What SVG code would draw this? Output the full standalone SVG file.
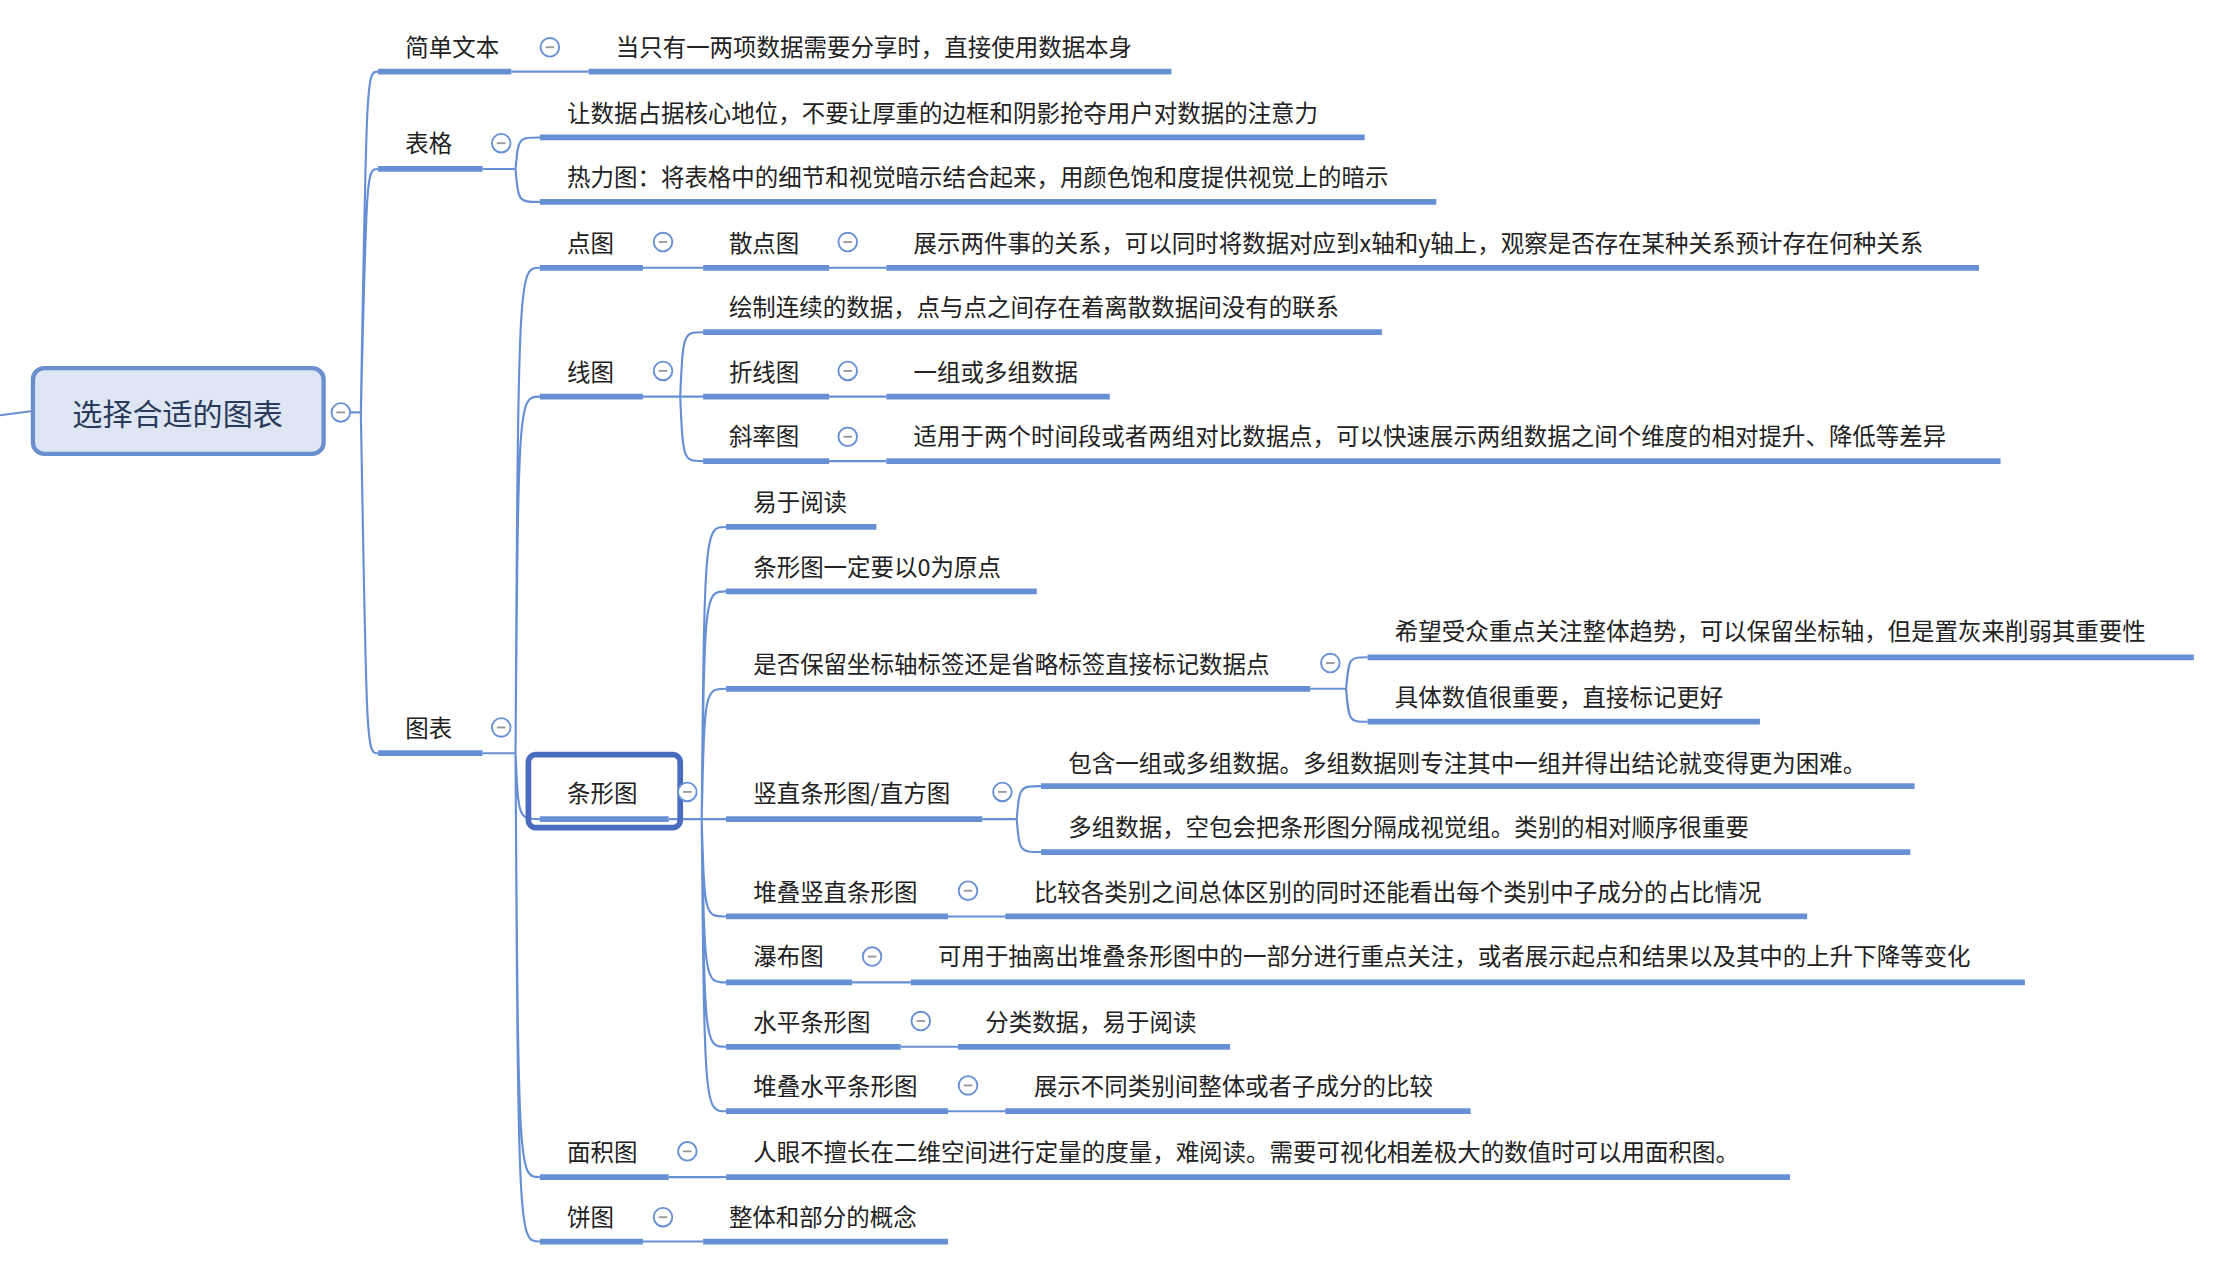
<svg xmlns="http://www.w3.org/2000/svg" width="2238" height="1268" viewBox="0 0 2238 1268">
<style>
text{font-family:"Noto Sans CJK SC","Liberation Sans",sans-serif;font-size:16.4px;fill:#222}
.bar{stroke:#6790d4;stroke-width:4;fill:none}
.ln{stroke:#6790d4;stroke-width:1.5;fill:none}
.c{fill:#fff;stroke:#6790d4;stroke-width:1.3}
.d{stroke:#999;stroke-width:1.3}
</style>
<defs>
<g id="col"><circle class="c" r="6.5"/><line class="d" x1="-3" y1="0" x2="3" y2="0"/></g>
</defs>
<rect width="2238" height="1268" fill="#fff"/>
<g transform="scale(1.432)">
<g id="connectors">
<path class="ln" d="M0,290 L23,287"/>
<path class="ln" d="M245,288 L252,288 C256,50 256,50 264,50 M252,288 C256,118 256,118 264,118 M252,288 C256,526 256,526 264,526"/>
<path class="ln" d="M357,50 L411,50"/>
<path class="ln" d="M337,118 L360,118 C362,96 362,96 377,96 M360,118 C362,141 362,141 377,141"/>
<path class="ln" d="M337,526 L360,526 C362,187 362,187 377,187 M360,526 C362,277 362,277 377,277 M360,526 C362,572 362,572 377,572 M360,526 C362,822 362,822 377,822 M360,526 C362,867 362,867 377,867"/>
<path class="ln" d="M449,187 L491,187 M579,187 L619,187"/>
<path class="ln" d="M449,277 L475,277 C477,232 477,232 491,232 M475,277 L491,277 M475,277 C477,322 477,322 491,322 M579,277 L619,277 M579,322 L619,322"/>
<path class="ln" d="M467,572 L490,572 C492,368 492,368 507,368 M490,572 C492,413 492,413 507,413 M490,572 C492,481 492,481 507,481 M490,572 L507,572 M490,572 C492,640 492,640 507,640 M490,572 C492,686 492,686 507,686 M490,572 C492,731 492,731 507,731 M490,572 C492,776 492,776 507,776"/>
<path class="ln" d="M915,481 L940,481 C942,459 942,459 955,459 M940,481 C942,504 942,504 955,504"/>
<path class="ln" d="M686,572 L710,572 C712,549 712,549 727,549 M710,572 C712,595 712,595 727,595"/>
<path class="ln" d="M662,640 L702,640 M595,686 L636,686 M629,731 L669,731 M662,776 L702,776 M467,822 L507,822 M449,867 L491,867"/>
</g>
<g id="root">
<rect x="23" y="257" width="203" height="60" rx="8" fill="#dde6f2" stroke="#6a8fcf" stroke-width="3"/>
<text x="124" y="297" text-anchor="middle" style="font-size:21px;fill:#2a3a5a">选择合适的图表</text>
<use href="#col" x="238" y="288"/>
</g>
<g id="n-jdwb"><path class="bar" d="M264,50H357"/><text x="283" y="39">简单文本</text><use href="#col" x="384" y="33"/></g>
<g id="n-jdwb1"><path class="bar" d="M411,50H818"/><text x="430" y="39">当只有一两项数据需要分享时，直接使用数据本身</text></g>
<g id="n-bg"><path class="bar" d="M264,118H337"/><text x="283" y="106">表格</text><use href="#col" x="350" y="100"/></g>
<g id="n-bg1"><path class="bar" d="M377,96H953"/><text x="396" y="85">让数据占据核心地位，不要让厚重的边框和阴影抢夺用户对数据的注意力</text></g>
<g id="n-bg2"><path class="bar" d="M377,141H1003"/><text x="396" y="130">热力图：将表格中的细节和视觉暗示结合起来，用颜色饱和度提供视觉上的暗示</text></g>
<g id="n-tb"><path class="bar" d="M264,526H337"/><text x="283" y="515">图表</text><use href="#col" x="350" y="508"/></g>
<g id="n-dt"><path class="bar" d="M377,187H449"/><text x="396" y="176">点图</text><use href="#col" x="463" y="169"/></g>
<g id="n-sdt"><path class="bar" d="M491,187H579"/><text x="509" y="176">散点图</text><use href="#col" x="592" y="169"/></g>
<g id="n-sdt1"><path class="bar" d="M619,187H1382"/><text x="638" y="176">展示两件事的关系，可以同时将数据对应到x轴和y轴上，观察是否存在某种关系预计存在何种关系</text></g>
<g id="n-xt"><path class="bar" d="M377,277H449"/><text x="396" y="266">线图</text><use href="#col" x="463" y="259"/></g>
<g id="n-xt1"><path class="bar" d="M491,232H965"/><text x="509" y="221">绘制连续的数据，点与点之间存在着离散数据间没有的联系</text></g>
<g id="n-zxt"><path class="bar" d="M491,277H579"/><text x="509" y="266">折线图</text><use href="#col" x="592" y="259"/></g>
<g id="n-zxt1"><path class="bar" d="M619,277H775"/><text x="638" y="266">一组或多组数据</text></g>
<g id="n-xlt"><path class="bar" d="M491,322H579"/><text x="509" y="311">斜率图</text><use href="#col" x="592" y="305"/></g>
<g id="n-xlt1"><path class="bar" d="M619,322H1397"/><text x="638" y="311">适用于两个时间段或者两组对比数据点，可以快速展示两组数据之间个维度的相对提升、降低等差异</text></g>
<g id="n-txt"><rect x="369" y="527" width="106" height="51" rx="5" fill="none" stroke="#4a6cc0" stroke-width="4"/><path class="bar" d="M377,572H467"/><text x="396" y="560">条形图</text><use href="#col" x="480" y="553"/></g>
<g id="n-t1"><path class="bar" d="M507,368H612"/><text x="526" y="357">易于阅读</text></g>
<g id="n-t2"><path class="bar" d="M507,413H724"/><text x="526" y="402">条形图一定要以0为原点</text></g>
<g id="n-t3"><path class="bar" d="M507,481H915"/><text x="526" y="470">是否保留坐标轴标签还是省略标签直接标记数据点</text><use href="#col" x="929" y="463"/></g>
<g id="n-t3a"><path class="bar" d="M955,459H1532"/><text x="974" y="447">希望受众重点关注整体趋势，可以保留坐标轴，但是置灰来削弱其重要性</text></g>
<g id="n-t3b"><path class="bar" d="M955,504H1229"/><text x="974" y="493">具体数值很重要，直接标记更好</text></g>
<g id="n-t4"><path class="bar" d="M507,572H686"/><text x="526" y="560">竖直条形图/直方图</text><use href="#col" x="700" y="553"/></g>
<g id="n-t4a"><path class="bar" d="M727,549H1337"/><text x="746" y="539">包含一组或多组数据。多组数据则专注其中一组并得出结论就变得更为困难。</text></g>
<g id="n-t4b"><path class="bar" d="M727,595H1334"/><text x="746" y="584">多组数据，空包会把条形图分隔成视觉组。类别的相对顺序很重要</text></g>
<g id="n-t5"><path class="bar" d="M507,640H662"/><text x="526" y="629">堆叠竖直条形图</text><use href="#col" x="676" y="622"/></g>
<g id="n-t5a"><path class="bar" d="M702,640H1262"/><text x="722" y="629">比较各类别之间总体区别的同时还能看出每个类别中子成分的占比情况</text></g>
<g id="n-t6"><path class="bar" d="M507,686H595"/><text x="526" y="674">瀑布图</text><use href="#col" x="609" y="668"/></g>
<g id="n-t6a"><path class="bar" d="M636,686H1414"/><text x="655" y="674">可用于抽离出堆叠条形图中的一部分进行重点关注，或者展示起点和结果以及其中的上升下降等变化</text></g>
<g id="n-t7"><path class="bar" d="M507,731H629"/><text x="526" y="720">水平条形图</text><use href="#col" x="643" y="713"/></g>
<g id="n-t7a"><path class="bar" d="M669,731H859"/><text x="688" y="720">分类数据，易于阅读</text></g>
<g id="n-t8"><path class="bar" d="M507,776H662"/><text x="526" y="765">堆叠水平条形图</text><use href="#col" x="676" y="758"/></g>
<g id="n-t8a"><path class="bar" d="M702,776H1027"/><text x="722" y="765">展示不同类别间整体或者子成分的比较</text></g>
<g id="n-mjt"><path class="bar" d="M377,822H467"/><text x="396" y="811">面积图</text><use href="#col" x="480" y="804"/></g>
<g id="n-mjt1"><path class="bar" d="M507,822H1250"/><text x="526" y="811">人眼不擅长在二维空间进行定量的度量，难阅读。需要可视化相差极大的数值时可以用面积图。</text></g>
<g id="n-bt"><path class="bar" d="M377,867H449"/><text x="396" y="856">饼图</text><use href="#col" x="463" y="850"/></g>
<g id="n-bt1"><path class="bar" d="M491,867H662"/><text x="509" y="856">整体和部分的概念</text></g>
</g>
</svg>
